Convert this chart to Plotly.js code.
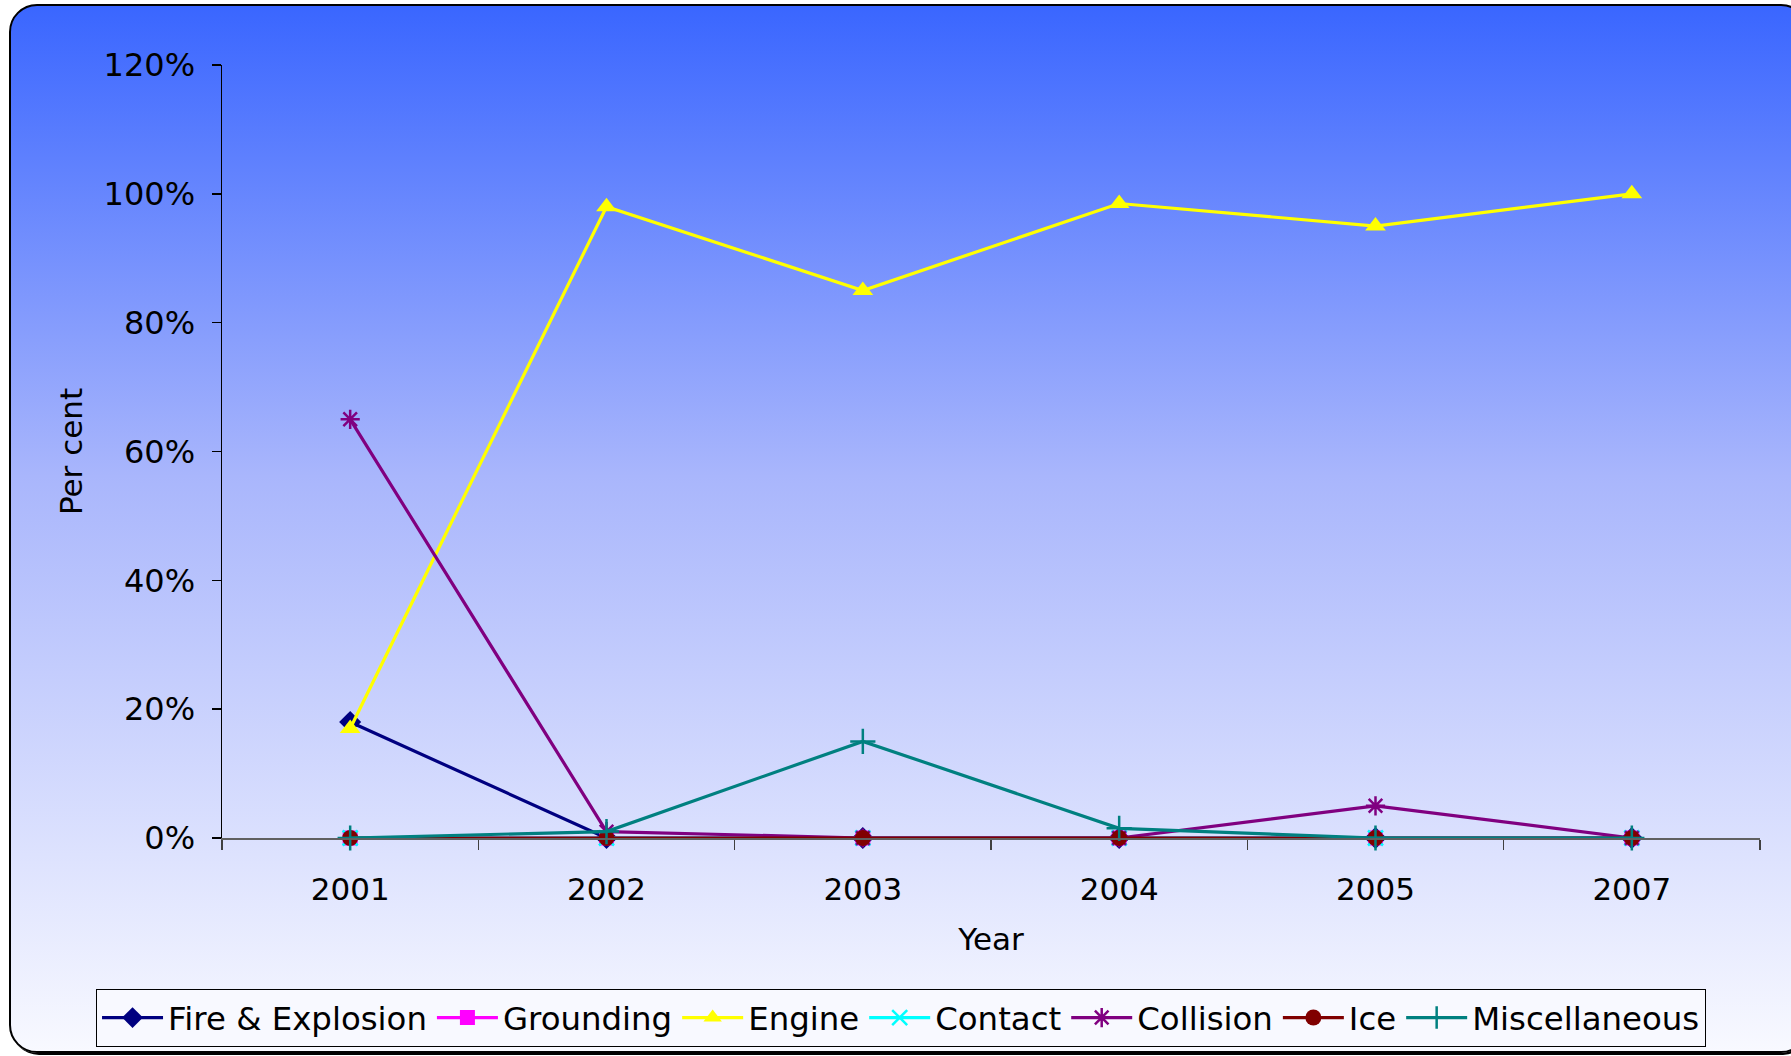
<!DOCTYPE html>
<html>
<head>
<meta charset="utf-8">
<script src="https://cdn.plot.ly/plotly-3.0.1.min.js"></script>
<style>
  html, body { margin: 0; padding: 0; width: 1791px; height: 1056px; overflow: hidden; background: #ffffff; }
  #frame {
    position: absolute; left: 9px; top: 4px; width: 1800px; height: 1049px;
    border: 2px solid #000; border-radius: 28px; box-sizing: border-box;
    background: linear-gradient(to bottom, #3A66FF 0%, #A9B6FC 45%, #F8F9FF 100%);
    box-shadow: 2px 2px 0 #000;
  }
  #chart { position: absolute; left: 0; top: 0; width: 1791px; height: 1056px; }
</style>
</head>
<body>
<div id="frame"></div>
<div id="chart"></div>
<script>
const years = ["2001", "2002", "2003", "2004", "2005", "2007"];
const fireExplosion = [18, 0, 0, 0, 0, 0];
const grounding = [0, 0, 0, 0, 0, 0];
const engine = [17, 98, 85, 98.5, 95, 100];
const contact = [0, 0, 0, 0, 0, 0];
const collision = [65, 1, 0, 0, 5, 0];
const ice = [0, 0, 0, 0, 0, 0];
const miscellaneous = [0, 1, 15, 1.5, 0, 0];
const yTicks = [0, 20, 40, 60, 80, 100, 120];
const yTickText = yTicks.map(v => v + "%");

const FONT = "Verdana, 'DejaVu Sans', sans-serif";

function series(name, y, color, symbol, size, open) {
  const marker = { symbol: symbol, size: size, color: color };
  if (open) marker.line = { color: color, width: 2.5 };
  return {
    type: "scatter", mode: "lines+markers", name: name,
    x: years, y: y,
    line: { color: color, width: 3.2 },
    marker: marker,
    cliponaxis: false
  };
}

const data = [
  series("Fire & Explosion", fireExplosion, "#000080", "diamond", 17),
  series("Grounding", grounding, "#FF00FF", "square", 15),
  series("Engine", engine, "#FFFF00", "triangle-up", 18),
  series("Contact", contact, "#00FFFF", "x-thin", 15, true),
  series("Collision", collision, "#800080", "asterisk", 16, true),
  series("Ice", ice, "#800000", "circle", 16),
  series("Miscellaneous", miscellaneous, "#008080", "cross-thin", 18, true)
];

const layout = {
  width: 1791, height: 1056,
  paper_bgcolor: "rgba(0,0,0,0)",
  plot_bgcolor: "rgba(0,0,0,0)",
  margin: { l: 222, r: 31, t: 65, b: 218, autoexpand: false },
  font: { family: FONT, size: 31, color: "#000" },
  showlegend: true,
  xaxis: {
    type: "category",
    range: [-0.5, 5.5],
    showline: true, linecolor: "#606060", linewidth: 1.5,
    ticks: "outside", ticklen: 10, tickcolor: "#404040", tickwidth: 1.5,
    tickson: "boundaries",
    showgrid: false, zeroline: false,
    ticklabelstandoff: 23,
    tickfont: { family: FONT, size: 31, color: "#000" },
    title: { text: "Year", font: { family: FONT, size: 31, color: "#000" }, standoff: 22 }
  },
  yaxis: {
    range: [0, 120],
    tickmode: "array",
    tickvals: yTicks,
    ticktext: yTickText,
    showline: true, linecolor: "#000", linewidth: 1.5,
    ticks: "outside", ticklen: 9, tickcolor: "#000", tickwidth: 1.5,
    showgrid: false, zeroline: false,
    ticklabelstandoff: 10,
    tickfont: { family: FONT, size: 32, color: "#000" },
    title: { text: "Per cent", font: { family: FONT, size: 31, color: "#000" }, standoff: 12 }
  },
  legend: {
    orientation: "h",
    x: -0.0819, xanchor: "left",
    y: -0.1953, yanchor: "top",
    bgcolor: "#F8F9FF",
    bordercolor: "#000", borderwidth: 1,
    font: { family: FONT, size: 32.4, color: "#000" },
    itemwidth: 61,
    traceorder: "normal"
  }
};

Plotly.newPlot("chart", data, layout, { displayModeBar: false, staticPlot: true });
</script>
</body>
</html>
